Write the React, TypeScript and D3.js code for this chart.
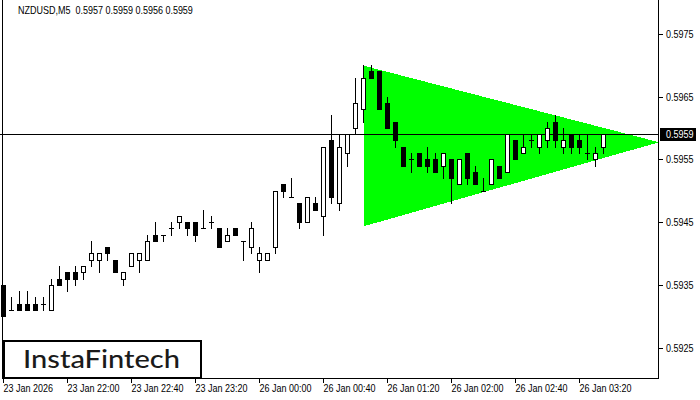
import React from "react";
import * as d3 from "d3";

const symbolTitle = "NZDUSD,M5";
const lastOHLC = [0.5957, 0.5959, 0.5956, 0.5959];

const opens = [
  0.5935, 0.5931, 0.5932, 0.5932, 0.5932, 0.5932, 0.5931, 0.5936, 0.5937, 0.5937,
  0.5937, 0.5939, 0.5939, 0.5941, 0.5939, 0.5936, 0.5938, 0.5939, 0.5939, 0.5943,
  0.5943, 0.5944, 0.5945, 0.5945, 0.5945, 0.5944, 0.5945, 0.5944, 0.5942, 0.5944,
  0.5942, 0.5941, 0.5939, 0.5939, 0.5941, 0.5951, 0.5949, 0.5948, 0.5945, 0.5948,
  0.5946, 0.5958, 0.5948, 0.5956, 0.596, 0.5963, 0.5969, 0.5969, 0.5964, 0.5961,
  0.5957, 0.5955, 0.5956, 0.5955, 0.5955, 0.5954, 0.5955, 0.5951, 0.5956, 0.5953,
  0.595, 0.5951, 0.5954, 0.5953, 0.5958, 0.5956, 0.5958, 0.5957, 0.5958, 0.5961,
  0.5957, 0.5959, 0.5958, 0.5956, 0.5955, 0.5957,
];
const highs = [
  0.5935, 0.5933, 0.5934, 0.5934, 0.5933, 0.5933, 0.5936, 0.5938, 0.5937, 0.5938,
  0.5938, 0.5942, 0.594, 0.5941, 0.5939, 0.5937, 0.594, 0.594, 0.5943, 0.5945,
  0.5943, 0.5945, 0.5946, 0.5945, 0.5945, 0.5947, 0.5946, 0.5944, 0.5944, 0.5944,
  0.5942, 0.5945, 0.5941, 0.594, 0.595, 0.5951, 0.5952, 0.5948, 0.5949, 0.5949,
  0.5957, 0.5962, 0.5959, 0.5959, 0.5968, 0.597, 0.597, 0.5969, 0.5965, 0.5961,
  0.5957, 0.5956, 0.5956, 0.5957, 0.5956, 0.5956, 0.5955, 0.5955, 0.5956, 0.5954,
  0.5952, 0.5955, 0.5954, 0.5959, 0.5958, 0.5959, 0.5959, 0.5959, 0.5961, 0.5962,
  0.596, 0.5959, 0.5959, 0.5959, 0.5957, 0.5959,
];
const lows = [
  0.593, 0.5931, 0.5931, 0.5931, 0.5931, 0.5931, 0.5931, 0.5935, 0.5934, 0.5935,
  0.5936, 0.5938, 0.5937, 0.5939, 0.5937, 0.5935, 0.5938, 0.5937, 0.5939, 0.5942,
  0.5942, 0.5943, 0.5944, 0.5943, 0.5942, 0.5944, 0.5944, 0.5941, 0.5942, 0.5943,
  0.5939, 0.594, 0.5937, 0.5939, 0.594, 0.5949, 0.5949, 0.5944, 0.5945, 0.5947,
  0.5943, 0.5948, 0.5947, 0.5954, 0.5959, 0.5961, 0.5968, 0.5963, 0.596, 0.5957,
  0.5954, 0.5953, 0.5954, 0.5953, 0.5953, 0.5952, 0.5948, 0.5951, 0.5951, 0.5951,
  0.595, 0.5951, 0.5952, 0.5953, 0.5955, 0.5956, 0.5957, 0.5956, 0.5957, 0.5957,
  0.5956, 0.5956, 0.5956, 0.5955, 0.5954, 0.5956,
];
const closes = [
  0.593, 0.5931, 0.5931, 0.5931, 0.5931, 0.5932, 0.5935, 0.5935, 0.5936, 0.5936,
  0.5938, 0.594, 0.594, 0.594, 0.5937, 0.5937, 0.594, 0.594, 0.5942, 0.5942,
  0.5943, 0.5944, 0.5946, 0.5944, 0.5943, 0.5944, 0.5945, 0.5941, 0.5943, 0.5943,
  0.5942, 0.5944, 0.594, 0.594, 0.595, 0.595, 0.5949, 0.5945, 0.5949, 0.5947,
  0.5957, 0.5949, 0.5957, 0.5959, 0.5964, 0.5968, 0.5968, 0.5963, 0.596, 0.5958,
  0.5954, 0.5955, 0.5954, 0.5954, 0.5953, 0.5956, 0.5952, 0.5955, 0.5952, 0.5951,
  0.595, 0.5955, 0.5952, 0.5959, 0.5955, 0.5957, 0.5958, 0.5959, 0.596, 0.5958,
  0.5958, 0.5957, 0.5957, 0.5956, 0.5956, 0.5959,
];

const xTickIndex = [0, 8, 16, 24, 32, 40, 48, 56, 64, 72];
const xTickLabels = [
  "23 Jan 2026", "23 Jan 22:00", "23 Jan 22:40", "23 Jan 23:20", "26 Jan 00:00",
  "26 Jan 00:40", "26 Jan 01:20", "26 Jan 02:00", "26 Jan 02:40", "26 Jan 03:20",
];
const yTicks = [0.5975, 0.5965, 0.5955, 0.5945, 0.5935, 0.5925];
const lastPrice = 0.5959;

// triangle pattern: [candle index, price]
const triangleIdx = [45, 81.94, 45];
const trianglePrice = [0.597, 0.59578, 0.59444];

const FONT = "'Liberation Sans', Arial, sans-serif";

function Label(props: { x: number; y: number; fill?: string; children: React.ReactNode }) {
  return (
    <text
      transform={`translate(${props.x},${props.y}) scale(0.9,1)`}
      fontFamily={FONT}
      fontSize={10}
      fill={props.fill || "#000"}
      style={{ whiteSpace: "pre" }}
    >
      {props.children}
    </text>
  );
}

export default function App() {
  const plotRight = 658;
  const plotBottom = 378;
  const x = d3.scaleLinear().domain([0, 75]).range([3.5, 603.5]);
  const y = d3.scaleLinear().domain([0.5925, 0.5975]).range([348.1, 34.3]);
  const row = (p: number) => Math.floor(y(p));

  const tri = triangleIdx.map((i, k) => [x(i), y(trianglePrice[k])] as [number, number]);
  const triPath = d3.line()(tri) + "Z";

  const candles = opens.map((o, i) => {
    const c = closes[i];
    const h = highs[i];
    const l = lows[i];
    const cx = Math.round(x(i) - 0.5) + 0.5;
    const top = row(Math.max(o, c));
    const bot = row(Math.min(o, c));
    const wick = (
      <line key={"w" + i} x1={cx} x2={cx} y1={row(h)} y2={row(l) + 1} stroke="#000" strokeWidth={1} />
    );
    let body;
    if (top === bot) {
      body = <line key={"b" + i} x1={cx - 2.5} x2={cx + 2.5} y1={top + 0.5} y2={top + 0.5} stroke="#000" strokeWidth={1} />;
    } else if (c > o) {
      body = <rect key={"b" + i} x={cx - 2} y={top + 0.5} width={4} height={bot - top} fill="#fff" stroke="#000" strokeWidth={1} />;
    } else {
      body = <rect key={"b" + i} x={cx - 2.5} y={top} width={5} height={bot - top + 1} fill="#000" />;
    }
    return (
      <g key={i}>
        {wick}
        {body}
      </g>
    );
  });

  const lastY = row(lastPrice) + 0.5;

  return (
    <svg width={700} height={400} style={{ position: "absolute", left: 0, top: 0, background: "#fff" }} shapeRendering="crispEdges">
      <defs>
        <clipPath id="plot">
          <rect x={0} y={0} width={plotRight} height={plotBottom} />
        </clipPath>
      </defs>
      <rect x={0} y={0} width={700} height={400} fill="#fff" />
      <g clipPath="url(#plot)">
        <path d={triPath} fill="#00ff00" />
        <line x1={0} x2={plotRight} y1={lastY} y2={lastY} stroke="#000" strokeWidth={1} />
        {candles}
      </g>
      {/* frame */}
      <line x1={2.5} x2={2.5} y1={0} y2={plotBottom + 1} stroke="#000" />
      <line x1={2} x2={plotRight + 1} y1={plotBottom + 0.5} y2={plotBottom + 0.5} stroke="#000" />
      <line x1={plotRight + 0.5} x2={plotRight + 0.5} y1={0} y2={plotBottom + 1} stroke="#000" />
      {/* title */}
      <Label x={18} y={14}>{symbolTitle + "  " + lastOHLC.map((v) => v.toFixed(4)).join(" ")}</Label>
      {/* y axis */}
      {yTicks.map((t) => {
        const ty = row(t) + 0.5;
        return (
          <g key={t}>
            <line x1={plotRight + 1} x2={plotRight + 5} y1={ty} y2={ty} stroke="#000" />
            <Label x={666} y={ty + 3.5}>{t.toFixed(4)}</Label>
          </g>
        );
      })}
      <rect x={660} y={lastY - 6.5} width={36} height={13} fill="#000" />
      <Label x={666} y={lastY + 3.5} fill="#fff">{lastPrice.toFixed(4)}</Label>
      {/* x axis */}
      {xTickIndex.map((ti, k) => {
        const tx = Math.round(x(ti) - 0.5) + 0.5;
        return (
          <g key={ti}>
            <line x1={tx} x2={tx} y1={plotBottom + 1} y2={plotBottom + 5} stroke="#000" />
            <Label x={tx} y={392}>{xTickLabels[k]}</Label>
          </g>
        );
      })}
      {/* logo */}
      <rect x={4} y={341} width={197} height={37} fill="#fff" stroke="#000" strokeWidth={2} />
      <text x={23} y={367.5} fontFamily="Lato, 'Open Sans', sans-serif" fontSize={25} fontWeight={500} fill="#1a1a1a" textLength={157} lengthAdjust="spacingAndGlyphs">
        InstaFintech
      </text>
    </svg>
  );
}
